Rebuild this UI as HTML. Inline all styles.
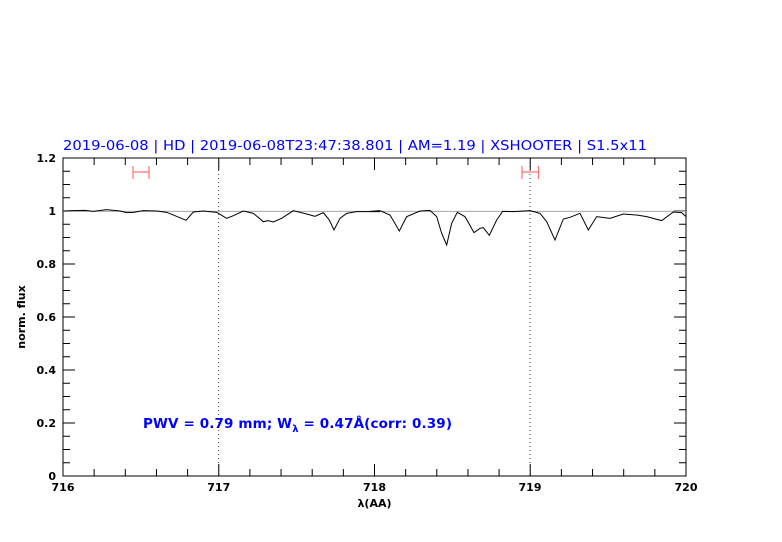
<!DOCTYPE html>
<html><head><meta charset="utf-8"><style>
body{margin:0;background:#fff}
svg{display:block}
text{font-family:"DejaVu Sans","Liberation Sans",sans-serif}
</style></head><body>
<svg width="782" height="542" viewBox="0 0 782 542" xmlns="http://www.w3.org/2000/svg">
<rect width="782" height="542" fill="#fff"/>
<text x="63" y="150" font-size="13.5" fill="#0000ff" textLength="584" lengthAdjust="spacingAndGlyphs">2019-06-08 | HD | 2019-06-08T23:47:38.801 | AM=1.19 | XSHOOTER | S1.5x11</text>
<rect x="63" y="158" width="623" height="318" fill="none" stroke="#000" stroke-width="1"/>
<path stroke="#000" stroke-width="1" fill="none" d="
M63,476v-12 M94.15,476v-7 M125.3,476v-7 M156.45,476v-7 M187.6,476v-7 M218.75,476v-12 M249.9,476v-7 M281.05,476v-7 M312.2,476v-7 M343.35,476v-7 M374.5,476v-12 M405.65,476v-7 M436.8,476v-7 M467.95,476v-7 M499.1,476v-7 M530.25,476v-12 M561.4,476v-7 M592.55,476v-7 M623.7,476v-7 M654.85,476v-7 M686,476v-12
M63,158v12 M94.15,158v7 M125.3,158v7 M156.45,158v7 M187.6,158v7 M218.75,158v12 M249.9,158v7 M281.05,158v7 M312.2,158v7 M343.35,158v7 M374.5,158v12 M405.65,158v7 M436.8,158v7 M467.95,158v7 M499.1,158v7 M530.25,158v12 M561.4,158v7 M592.55,158v7 M623.7,158v7 M654.85,158v7 M686,158v12
M63,476h12 M63,462.75h7 M63,449.5h7 M63,436.25h7 M63,423h12 M63,409.75h7 M63,396.5h7 M63,383.25h7 M63,370h12 M63,356.75h7 M63,343.5h7 M63,330.25h7 M63,317h12 M63,303.75h7 M63,290.5h7 M63,277.25h7 M63,264h12 M63,250.75h7 M63,237.5h7 M63,224.25h7 M63,211h12 M63,197.75h7 M63,184.5h7 M63,171.25h7 M63,158h12
M686,476h-12 M686,462.75h-7 M686,449.5h-7 M686,436.25h-7 M686,423h-12 M686,409.75h-7 M686,396.5h-7 M686,383.25h-7 M686,370h-12 M686,356.75h-7 M686,343.5h-7 M686,330.25h-7 M686,317h-12 M686,303.75h-7 M686,290.5h-7 M686,277.25h-7 M686,264h-12 M686,250.75h-7 M686,237.5h-7 M686,224.25h-7 M686,211h-12 M686,197.75h-7 M686,184.5h-7 M686,171.25h-7 M686,158h-12"/>
<line x1="218.75" y1="158" x2="218.75" y2="476" stroke="#000" stroke-width="0.8" stroke-dasharray="1,3"/>
<line x1="530" y1="158" x2="530" y2="476" stroke="#000" stroke-width="0.8" stroke-dasharray="1,3"/>
<line x1="63" y1="211.3" x2="686" y2="211.3" stroke="#999" stroke-width="0.8"/>
<g transform="translate(60,150) scale(0.33333)">
<polyline fill="none" stroke="#000" stroke-width="1" vector-effect="non-scaling-stroke" points="10,183 40,182 75,181 100,184 140,179 180,183 200,188 220,187 250,182 290,183 320,187 345,197 378,211 400,186 430,183 470,187 500,205 520,197 550,183 580,190 610,215 625,212 640,216 665,205 700,182 740,192 765,199 790,188 808,210 822,240 840,205 860,190 890,185 930,185 960,185"/>
</g>
<g transform="translate(370,150) scale(0.33333)">
<polyline fill="none" stroke="#000" stroke-width="1" vector-effect="non-scaling-stroke" points="0,184 30,182 60,195 88,243 110,200 150,183 180,181 200,200 215,250 230,285 245,220 262,187 285,200 312,248 330,235 340,233 358,256 380,210 398,184 430,185 480,182 510,190 530,215 555,270 580,207 600,202 630,190 655,240 680,200 720,205 760,192 800,195 830,200 875,212 910,186 935,188 948,200"/>
</g>
<g stroke="#ff7070" stroke-width="1.2">
<line x1="133" y1="172" x2="149" y2="172"/><line x1="133" y1="166" x2="133" y2="179"/><line x1="149" y1="166" x2="149" y2="179"/>
<line x1="522" y1="172" x2="538.5" y2="172"/><line x1="522" y1="166" x2="522" y2="179"/><line x1="538.5" y1="166" x2="538.5" y2="179"/>
</g>
<g font-size="11" fill="#000" text-anchor="end" font-weight="bold">
<text x="56" y="480">0</text><text x="56" y="427">0.2</text><text x="56" y="374">0.4</text><text x="56" y="321">0.6</text><text x="56" y="268">0.8</text><text x="56" y="215">1</text><text x="56" y="162">1.2</text>
</g>
<g font-size="11" fill="#000" text-anchor="middle" font-weight="bold">
<text x="63" y="491">716</text><text x="218.75" y="491">717</text><text x="374.5" y="491">718</text><text x="530" y="491">719</text><text x="686" y="491">720</text>
<text x="374.5" y="507">λ(AA)</text>
<text transform="translate(25,317) rotate(-90)">norm. flux</text>
</g>
<text x="143" y="428" font-size="13.5" fill="#0000ff" font-weight="bold" textLength="309" lengthAdjust="spacing">PWV = 0.79 mm; W<tspan font-size="10" dy="4">λ</tspan><tspan dy="-4"> = 0.47Å(corr: 0.39)</tspan></text>
</svg>
</body></html>
